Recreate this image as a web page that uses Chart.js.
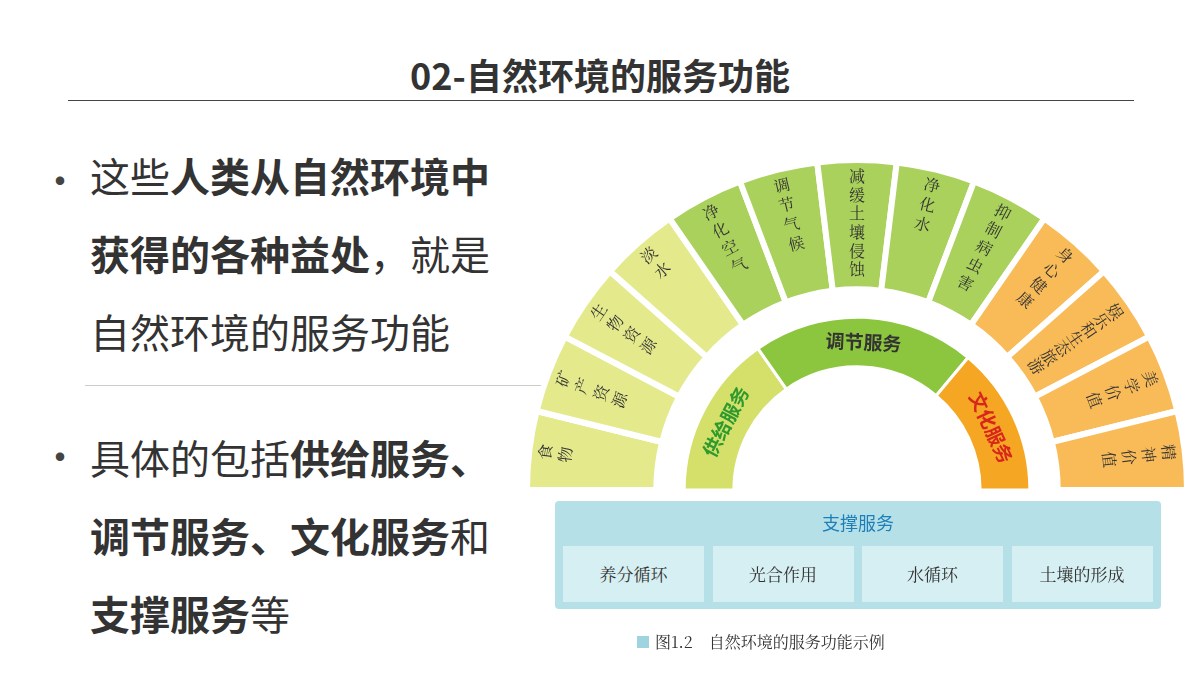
<!DOCTYPE html>
<html><head><meta charset="utf-8">
<script src="https://cdn.jsdelivr.net/npm/chart.js@4"></script>
<style>
body{margin:0;width:1200px;height:675px;background:#fff;position:relative;overflow:hidden;font-family:"Noto Sans CJK SC",sans-serif;color:#333}
#title{position:absolute;top:48px;left:0;width:1200px;text-align:center;font-size:36px;font-weight:bold;color:#333}
#tline{position:absolute;top:100px;left:68px;width:1066px;border-top:1.5px solid #444}
.p{position:absolute;left:90px;font-size:40px;line-height:78px;color:#333;white-space:nowrap}
.dot{position:absolute;left:40px;font-size:40px;color:#444}
#div{position:absolute;top:385px;left:85px;width:468px;border-top:1px solid #ccc}
#cv{position:absolute;left:527px;top:160px;width:660px;height:660px}
#panel{position:absolute;left:555px;top:501px;width:606px;height:108px;background:#b6e0e7;border-radius:4px}
#ptitle{position:absolute;top:8px;width:100%;text-align:center;color:#1e7fb8;font-size:18px}
.cell{position:absolute;top:45px;width:141px;height:56px;background:#d6eff2;font-family:"Noto Serif CJK SC","Noto Sans CJK SC";font-size:17px;text-align:center;line-height:56px;color:#333}
#cap{position:absolute;left:637px;top:630px;font-size:16px;color:#333;font-family:"Noto Serif CJK SC","Noto Sans CJK SC"}
#cap span{display:inline-block;width:12px;height:12px;background:#9fd3e0;margin-right:6px}
</style></head><body>
<div id="title">02-自然环境的服务功能</div><div id="tline"></div>
<div class="dot" style="top:150px">•</div>
<div class="p" style="top:136px">这些<b>人类从自然环境中</b><br><b>获得的各种益处</b>，就是<br>自然环境的服务功能</div>
<div id="div"></div>
<div class="dot" style="top:426px">•</div>
<div class="p" style="top:418px">具体的包括<b>供给服务、</b><br><b>调节服务、文化服务</b>和<br><b>支撑服务</b>等</div>
<canvas id="cv" width="660" height="660"></canvas>
<div id="panel"><div id="ptitle">支撑服务</div></div>
<div id="cap"><span></span>图1.2　自然环境的服务功能示例</div>
<script>
const outerLabels=["食物","矿产资源","生物资源","淡水","净化空气","调节气候","减缓土壤侵蚀","净化水","抑制病虫害","身心健康","娱乐和生态旅游","美学价值","精神价值"];
const outerValues=[1,1,1,1,1,1,1,1,1,1,1,1,1];
const outerColors=["#e4ea8c","#e4ea8c","#e4ea8c","#e4ea8c","#a9d15b","#a9d15b","#a9d15b","#a9d15b","#a9d15b","#f8bb58","#f8bb58","#f8bb58","#f8bb58"];
const innerLabels=["供给服务","调节服务","文化服务"];
const innerValues=[55,75,50];
const innerColors=["#d4e06a","#8cc63f","#f5a623"];
const innerText=["#2e9a2e","#333333","#d8261c"];
const supportLabels=["养分循环","光合作用","水循环","土壤的形成"];

const panel=document.getElementById('panel');
supportLabels.forEach((t,i)=>{const d=document.createElement('div');d.className='cell';d.style.left=(8+i*149.5)+'px';d.textContent=t;panel.appendChild(d);});

const sum=a=>a.reduce((x,y)=>x+y,0);
const labelPlugin={id:'lbl',afterDatasetsDraw(chart){
  const c=chart.ctx;
  const draw=(dsIndex,labels,colors,font,mode)=>{
    chart.getDatasetMeta(dsIndex).data.forEach((arc,i)=>{
      if(i>=labels.length)return;
      const a=(arc.startAngle+arc.endAngle)/2, cx=arc.x, cy=arc.y;
      c.save();c.fillStyle=colors[i];c.font=font;c.textAlign='center';c.textBaseline='middle';
      if(mode==='radial'){
        const chars=[...labels[i]];const step=Math.min(20,112/chars.length);const r0=arc.outerRadius-16;
        chars.forEach((ch,k)=>{const r=r0-k*step;c.save();c.translate(cx+r*Math.cos(a),cy+r*Math.sin(a));c.rotate(a+Math.PI/2);c.fillText(ch,0,0);c.restore();});
      }else{
        const r=(arc.innerRadius+arc.outerRadius)/2;c.translate(cx+r*Math.cos(a),cy+r*Math.sin(a));c.rotate(a+Math.PI/2);c.fillText(labels[i],0,0);
      }
      c.restore();
    });
  };
  draw(0,outerLabels,outerLabels.map(()=>'#333'),'16px "Noto Serif CJK SC","Noto Sans CJK SC"','radial');
  draw(2,innerLabels,innerText,'bold 19px "Noto Sans CJK SC"','tan');
}};
new Chart(document.getElementById('cv'),{type:'doughnut',
 data:{datasets:[
  {data:[...outerValues,sum(outerValues)],backgroundColor:[...outerColors,'rgba(0,0,0,0)'],borderColor:'#fff',borderWidth:[...outerValues.map(()=>6),0],weight:130},
  {data:[1],backgroundColor:['rgba(0,0,0,0)'],borderWidth:0,weight:28},
  {data:[...innerValues,sum(innerValues)],backgroundColor:[...innerColors,'rgba(0,0,0,0)'],borderColor:'#fff',borderWidth:[3,3,3,0],weight:50}
 ]},
 options:{responsive:false,animation:false,rotation:-90,circumference:360,radius:330,cutout:122,
  plugins:{legend:{display:false},tooltip:{enabled:false}},layout:{padding:0}},
 plugins:[labelPlugin]});
</script></body></html>
